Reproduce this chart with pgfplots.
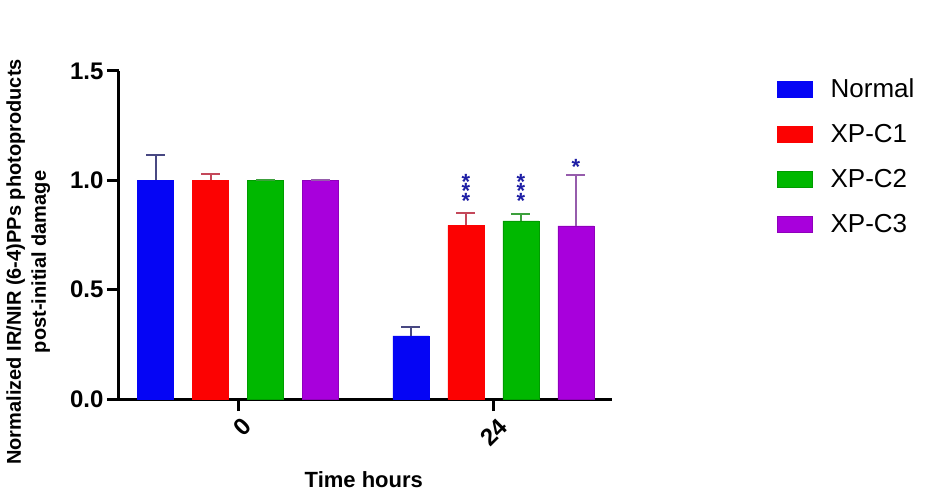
\documentclass[border=0pt]{standalone}
\usepackage{pgfplots}
\pgfplotsset{compat=1.18}
\usepackage{fontspec}
\setmainfont{Liberation Sans}
\definecolor{cblue}{RGB}{5,5,245}
\definecolor{cred}{RGB}{252,2,2}
\definecolor{cgreen}{RGB}{0,184,0}
\definecolor{cpurple}{RGB}{168,0,220}
\definecolor{eblue}{RGB}{72,72,130}
\definecolor{ered}{RGB}{196,72,90}
\definecolor{egreen}{RGB}{60,160,60}
\definecolor{epurple}{RGB}{150,92,172}
\definecolor{starblue}{RGB}{30,30,165}
\pgfplotsset{
  myerr/.style={error bars/.cd,y dir=plus,y explicit,
    error bar style={line width=2pt,draw=#1},
    error mark options={rotate=90,line width=2pt,mark size=9.5pt,draw=#1}},
}
\tikzset{sigstar/.style={text=starblue,font=\bfseries\fontsize{22}{22}\selectfont,inner sep=0pt,anchor=center}}
\newcommand{\st}{\raisebox{-12.6pt}[3.4pt][3.4pt]{*}}
\begin{document}
\begin{tikzpicture}
\begin{axis}[
  at={(0pt,0pt)}, anchor=south west,
  scale only axis, width=493pt, height=328pt,
  xmin=-0.466, xmax=1.464, ymin=0, ymax=1.5,
  ybar=19pt, bar width=36pt,
  axis x line*=bottom, axis y line*=left,
  axis line style={line width=3pt,-},
  xtick={0,1}, xticklabels={0,24},
  ytick={0,0.5,1,1.5},
  /pgf/number format/assume math mode=true,
  yticklabel style={/pgf/number format/fixed,/pgf/number format/precision=1,/pgf/number format/fixed zerofill},
  tick align=outside, major tick length=12pt,
  tick style={line width=3pt,black},
  ticklabel style={font=\bfseries\fontsize{24}{24}\selectfont},
  xticklabel style={rotate=45,anchor=east,yshift=-15pt,xshift=2pt},
  xlabel={Time hours},
  xlabel style={font=\bfseries\fontsize{22}{24}\selectfont,at={(axis description cs:0.4966,-0.245)},anchor=center},
  ylabel={Normalized IR/NIR (6-4)PPs photoproducts\\post-initial damage},
  ylabel style={align=center,font=\bfseries\fontsize{20}{25}\selectfont,at={(axis description cs:-0.184,0.418)},anchor=center},
  legend image code/.code={\fill[#1] (0pt,-8pt) rectangle (35pt,8pt);},
  legend style={at={(axis description cs:1.3347,0.983)},anchor=north west,draw=none,fill=none,
    font=\fontsize{26}{26}\selectfont,row sep=21.2pt,inner sep=0pt,
    /tikz/every odd column/.append style={column sep=16pt}},
  legend cell align=left,
]
\addplot[fill=cblue,draw=cblue,myerr=eblue]
  coordinates {(0,1.0) +- (0,0.117) (1,0.289) +- (0,0.042)};
\addplot[fill=cred,draw=cred,myerr=ered]
  coordinates {(0,1.0) +- (0,0.027) (1,0.794) +- (0,0.055)};
\addplot[fill=cgreen,draw=cgreen!85!black,myerr=egreen]
  coordinates {(0,1.0) +- (0,0.002) (1,0.815) +- (0,0.031)};
\addplot[fill=cpurple,draw=cpurple!85!black,myerr=epurple]
  coordinates {(0,1.0) +- (0,0.0) (1,0.792) +- (0,0.232)};
\legend{Normal,XP-C1,XP-C2,XP-C3}
\node[sigstar] at (axis cs:0.8924,1.015) {\st};
\node[sigstar] at (axis cs:0.8924,0.973) {\st};
\node[sigstar] at (axis cs:0.8924,0.930) {\st};
\node[sigstar] at (axis cs:1.1076,1.015) {\st};
\node[sigstar] at (axis cs:1.1076,0.973) {\st};
\node[sigstar] at (axis cs:1.1076,0.930) {\st};
\node[sigstar] at (axis cs:1.3229,1.085) {\st};
\end{axis}
\pgfresetboundingbox
\path (-119pt,-99pt) rectangle (807pt,399pt);
\end{tikzpicture}
\end{document}
